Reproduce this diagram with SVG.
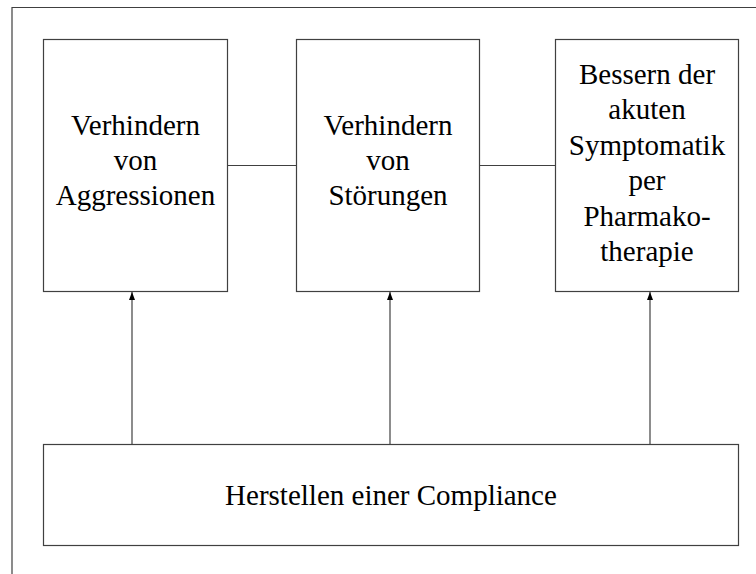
<svg xmlns="http://www.w3.org/2000/svg" width="756" height="574" viewBox="0 0 756 574">
  <style>
    .box { fill: #ffffff; stroke: #404040; stroke-width: 1.2; }
    .line { fill: none; stroke: #404040; stroke-width: 1.2; }
    .label { font-family: 'Liberation Serif', 'Times New Roman', 'DejaVu Serif', serif; font-size: 29px; fill: #000000; text-anchor: middle; }
  </style>
  <defs>
    <marker id="arrow" viewBox="0 0 8 6" refX="8" refY="3" markerWidth="8" markerHeight="6" markerUnits="userSpaceOnUse" orient="auto">
      <path d="M0,0 L8,3 L0,6 Z" fill="#000000"/>
    </marker>
  </defs>
  <rect width="756" height="574" fill="#ffffff"/>

  <!-- frame -->
  <path class="line" d="M12,574 V7.5 H756"/>

  <!-- connectors -->
  <g id="connectors">
    <line class="line" x1="227" y1="165.5" x2="296" y2="165.5"/>
    <line class="line" x1="480" y1="165.5" x2="555" y2="165.5"/>
    <line class="line" x1="132" y1="444" x2="132" y2="292" marker-end="url(#arrow)"/>
    <line class="line" x1="390" y1="444" x2="390" y2="292" marker-end="url(#arrow)"/>
    <line class="line" x1="650" y1="444" x2="650" y2="292" marker-end="url(#arrow)"/>
  </g>

  <g id="aggressionen" font-family="Liberation Serif, serif">
    <rect class="box" x="43.5" y="39.5" width="184" height="252"/>
    <text class="label" x="135.5" y="135">Verhindern</text>
    <text class="label" x="135.5" y="170">von</text>
    <text class="label" x="135.5" y="205">Aggressionen</text>
  </g>

  <g id="stoerungen" font-family="Liberation Serif, serif">
    <rect class="box" x="296.5" y="39.5" width="183" height="252"/>
    <text class="label" x="388" y="135">Verhindern</text>
    <text class="label" x="388" y="170">von</text>
    <text class="label" x="388" y="205">Störungen</text>
  </g>

  <g id="symptomatik" font-family="Liberation Serif, serif">
    <rect class="box" x="555.5" y="39.5" width="183" height="252"/>
    <text class="label" x="647" y="83.5">Bessern der</text>
    <text class="label" x="647" y="119">akuten</text>
    <text class="label" x="647" y="154.5">Symptomatik</text>
    <text class="label" x="647" y="190">per</text>
    <text class="label" x="647" y="225.5">Pharmako-</text>
    <text class="label" x="647" y="261">therapie</text>
  </g>

  <g id="compliance" font-family="Liberation Serif, serif">
    <rect class="box" x="43.5" y="444.5" width="695" height="101"/>
    <text class="label" x="391" y="504.5">Herstellen einer Compliance</text>
  </g>
</svg>
